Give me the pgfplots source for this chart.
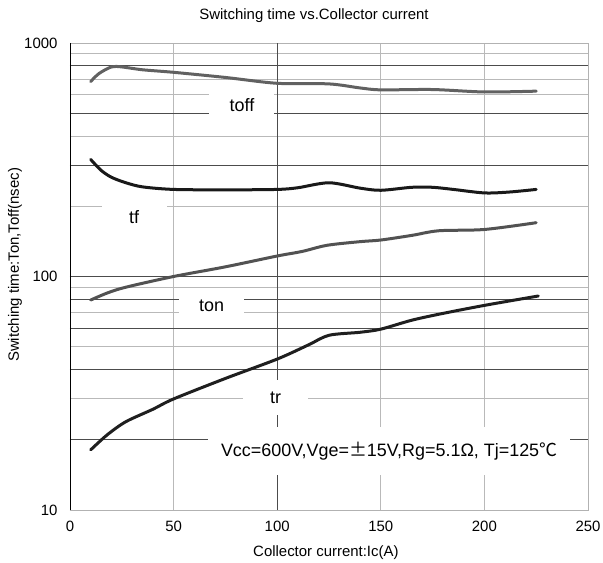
\documentclass[border=0pt]{standalone}
\usepackage{pgfplots}
\pgfplotsset{compat=1.18}
\usepackage{fontspec}
\setmainfont{Liberation Sans}
\newfontfamily\cjk{Noto Sans CJK JP}
\begin{document}
\begin{tikzpicture}
\begin{axis}[
  scale only axis, width=518bp, height=467bp,
  xmin=0, xmax=250, ymin=10, ymax=1000, ymode=log,
  xtick={0,50,100,150,200,250},
  ytick={10,100,1000}, yticklabels={10,100,1000},
  /pgf/number format/assume math mode=true,
  tick label style={font=\fontsize{15}{17}\selectfont},
  xticklabel style={yshift=-8bp},
  yticklabel style={xshift=-9bp},
  major tick length=0pt, minor tick length=0pt,
  xmajorgrids, ymajorgrids, yminorgrids,
  major grid style={gray!55, line width=0.8pt},
  minor grid style={gray!55, line width=0.8pt},
  extra y ticks={20,40,60,80,100,300,500,800},
  extra y tick labels={},
  extra x ticks={100},
  extra x tick labels={},
  extra tick style={grid=major, major grid style={black!70, line width=0.8pt}},
  axis line style={gray!60, line width=0.8pt},
  title={Switching time vs.Collector current},
  title style={font=\fontsize{15}{17}\selectfont, at={(axis description cs:0.471,1.045)}, anchor=center},
  xlabel={Collector current:Ic(A)},
  xlabel style={font=\fontsize{15}{17}\selectfont, at={(axis description cs:0.494,-0.092)}, anchor=center},
  ylabel={Switching time:Ton,Toff(nsec)},
  ylabel style={font=\fontsize{15}{17}\selectfont, at={(axis description cs:-0.106,0.525)}, anchor=center},
]
% label boxes
\node[fill=white, minimum width=65bp, minimum height=30bp, inner sep=0pt, font=\fontsize{18}{20}\selectfont] at (axis cs:83,543) {toff};
\node[fill=white, minimum width=65bp, minimum height=32bp, inner sep=0pt, font=\fontsize{18}{20}\selectfont] at (axis cs:31,180) {tf};
\node[fill=white, minimum width=65bp, minimum height=28bp, inner sep=0pt, font=\fontsize{18}{20}\selectfont] at (axis cs:68.3,74.8) {ton};
\node[fill=white, minimum width=65bp, minimum height=35bp, inner sep=0pt, font=\fontsize{18}{20}\selectfont] at (axis cs:99.2,30.3) {tr};
\node[fill=white, minimum width=362bp, minimum height=48bp, inner sep=0pt, font=\fontsize{18}{20}\selectfont] at (axis cs:154,17.9) {Vcc=600V,Vge={\cjk ±}15V,Rg=5.1Ω, Tj=125{\cjk ℃}};
\draw[black, line width=0.8pt] (rel axis cs:0,1) -- (rel axis cs:0,0) -- (rel axis cs:1,0);
% toff
\addplot[color=black!62, line width=3bp, smooth, line cap=round] coordinates {
(10,684) (14,740) (20,790) (25,790) (35,768) (50,749) (75,712) (100,672) (125,668) (140,642) (150,630) (175,632) (200,617) (225,622)};
% tf
\addplot[color=black!90, line width=3bp, smooth, line cap=round] coordinates {
(10,317) (15,285) (20,266) (27,252) (35,242) (50,236) (75,235) (100,236) (110,240) (125,252) (140,239) (150,234) (165,241) (175,241) (185,236) (200,228) (212,230) (225,236)};
% ton
\addplot[color=black!68, line width=3bp, smooth, line cap=round] coordinates {
(10,79.3) (18,85) (27,90) (50,100) (75,110) (100,122.4) (112,128) (124,136) (140,141) (150,143.3) (165,150) (178,157) (200,159) (225,170)};
% tr
\addplot[color=black!88, line width=3bp, smooth, line cap=round] coordinates {
(10,18.1) (18,21) (27,23.9) (40,27) (50,29.9) (75,36.6) (100,44.3) (115,50.9) (125,56) (140,57.7) (150,59.5) (165,65) (180,69.5) (201,75.5) (226,82.5)};
\end{axis}
\pgfresetboundingbox
\path[use as bounding box] (-70bp,-53bp) rectangle (533bp,510bp);
\end{tikzpicture}
\end{document}
